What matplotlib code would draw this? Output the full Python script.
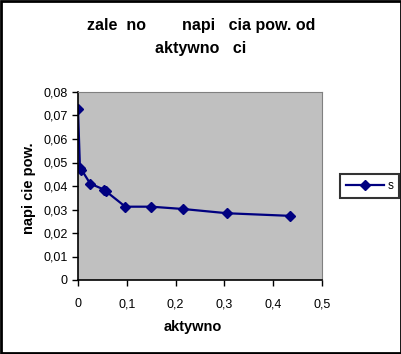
import matplotlib
matplotlib.use("Agg")
import matplotlib.pyplot as plt
from matplotlib.patches import Rectangle
from matplotlib.ticker import FuncFormatter, MultipleLocator

# data
aktywnosc = [0, 0.004, 0.007, 0.025, 0.053, 0.057, 0.097, 0.15, 0.216, 0.306, 0.434]
napiecie = [0.0726, 0.0477, 0.0470, 0.0410, 0.0385, 0.0378, 0.0312, 0.0312, 0.0302, 0.0284, 0.0273]

title = "zale  no        napi   cia pow. od\naktywno   ci"
xlabel = "aktywno"
ylabel = "napi cie pow."
series_name = "s"

plt.rcParams['font.family'] = ['Liberation Sans', 'DejaVu Sans']

fig = plt.figure(figsize=(4.02, 3.54), dpi=100)
ax = fig.add_axes([78 / 402, 74 / 354, 244 / 402, 188 / 354])
ax.set_facecolor("#c0c0c0")

ax.plot(aktywnosc, napiecie, color="#000080", lw=1.6, marker="D", ms=5,
        label=series_name)

ax.set_xlim(0, 0.5)
ax.set_ylim(0, 0.08)
ax.xaxis.set_major_locator(MultipleLocator(0.1))
ax.yaxis.set_major_locator(MultipleLocator(0.01))
fmt = FuncFormatter(lambda v, p: ("%g" % round(v, 3)).replace(".", ","))
ax.xaxis.set_major_formatter(fmt)
ax.yaxis.set_major_formatter(fmt)
ax.tick_params(direction="out", length=4, width=1, labelsize=9, colors="black")
ax.tick_params(axis="x", pad=9)

for s in ["top", "right"]:
    ax.spines[s].set_color("#808080")
for s in ["left", "bottom"]:
    ax.spines[s].set_color("black")
    ax.spines[s].set_linewidth(1.2)

fig.text(0.5, 1 - 37 / 354, title, ha="center", va="center",
         fontsize=11.5, fontweight="bold", linespacing=1.65)
fig.text(193 / 402, 1 - 327 / 354, xlabel, ha="center", va="center",
         fontsize=10.5, fontweight="bold")
fig.text(29 / 402, 1 - 188 / 354, ylabel, ha="center", va="center",
         rotation=90, fontsize=10.5, fontweight="bold")

leg = fig.legend(loc="center", bbox_to_anchor=(370 / 402, 1 - 186 / 354),
                 frameon=True, fancybox=False, fontsize=8.5, handlelength=3.2,
                 borderpad=0.5, handletextpad=0.3)
leg.get_frame().set_edgecolor("black")
leg.get_frame().set_linewidth(1.5)

fig.patches.append(Rectangle((0.002, 0.003), 0.995, 0.994, transform=fig.transFigure,
                             fill=False, edgecolor="black", lw=2))

fig.savefig("out.png", dpi=100)
